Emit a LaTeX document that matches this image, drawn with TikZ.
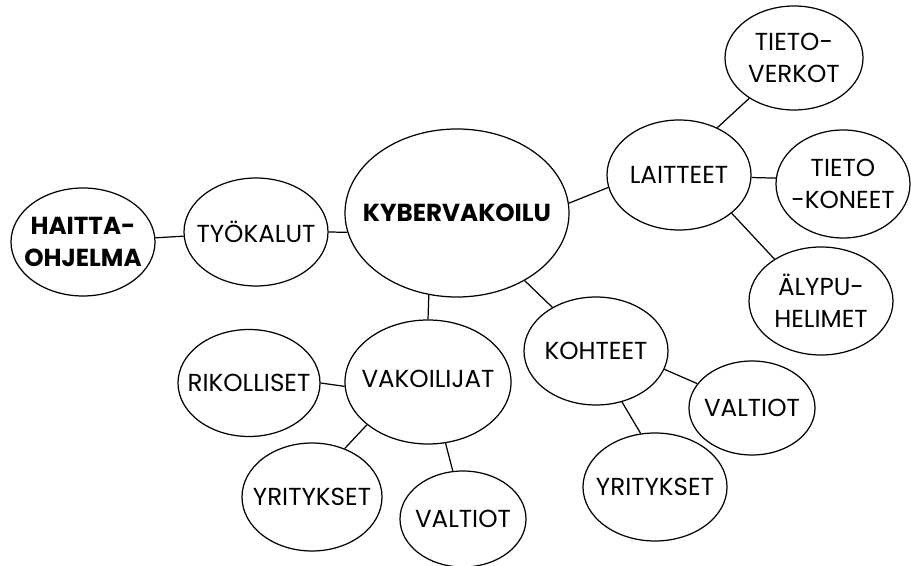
\documentclass[tikz,border=0pt]{standalone}
\usepackage{fontspec}
\setmainfont{Poppins}
\usepackage{tikz}
\usetikzlibrary{shapes.geometric}

\begin{document}
\begin{tikzpicture}[
  bub/.style = {draw, ellipse, line width = 0.7pt, inner xsep = -20pt, inner ysep = -10pt,
                minimum width = 2.88cm, minimum height = 2.16cm, align = center,
                font = \fontsize{14}{18}\selectfont},
  link/.style = {line width = 0.7pt}
]
\useasboundingbox (0, 0) rectangle (18.22, 11.32);

\node[bub, font = \fontsize{14}{18}\selectfont\bfseries] at (1.66, 6.48) (haitta) {HAITTA-\\OHJELMA};
\node[bub] at (5.12, 6.68) (tyo) {TYÖKALUT};
\node[bub, minimum width = 4.48cm, minimum height = 3.36cm,
      font = \fontsize{14}{18}\selectfont\bfseries] at (9.14, 7.06) (kyber) {KYBERVAKOILU};

\node[bub, minimum height = 2.2cm] at (13.58, 7.82) (laitteet) {LAITTEET};
\node[bub, minimum width = 2.76cm, minimum height = 2.08cm] at (15.88, 10.16) (verkot) {TIETO-\\VERKOT};
\node[bub, minimum width = 2.68cm] at (16.86, 7.64) (koneet) {TIETO\\-KONEET};
\node[bub] at (16.42, 5.30) (alypu) {ÄLYPU-\\HELIMET};

\node[bub, minimum width = 3.32cm, minimum height = 2.48cm] at (8.56, 3.68) (vak) {\raisebox{4pt}{VAKOILIJAT}};
\node[bub, minimum width = 2.84cm, minimum height = 2.14cm] at (4.98, 3.66) (rik) {RIKOLLISET};
\node[bub, minimum width = 2.8cm] at (6.24, 1.38) (yri1) {YRITYKSET};
\node[bub, minimum width = 2.52cm, minimum height = 1.92cm] at (9.26, 0.94) (val1) {VALTIOT};

\node[bub] at (11.92, 4.30) (koh) {KOHTEET};
\node[bub, minimum width = 2.52cm, minimum height = 1.88cm] at (15.04, 3.16) (val2) {VALTIOT};
\node[bub] at (13.10, 1.58) (yri2) {YRITYKSET};

\draw[link] (haitta) edge (tyo);
\draw[link] (tyo.east) edge (kyber.190);
\draw[link] (kyber.5) edge (laitteet.190);
\draw[link] (kyber.251) edge (vak.north);
\draw[link] (kyber.315) edge (koh.135);

\draw[link] (laitteet.51) edge (verkot.222);
\draw[link] (laitteet.358) edge (koneet.175);
\draw[link] (laitteet.324) edge (alypu.138);

\draw[link] (rik.east) edge (vak.183);
\draw[link] (vak.215) edge (yri1.56);
\draw[link] (vak.286) edge (val1.102);

\draw[link] (koh.345) edge (val2.156);
\draw[link] (koh.297) edge (yri2.105);

\end{tikzpicture}
\end{document}
